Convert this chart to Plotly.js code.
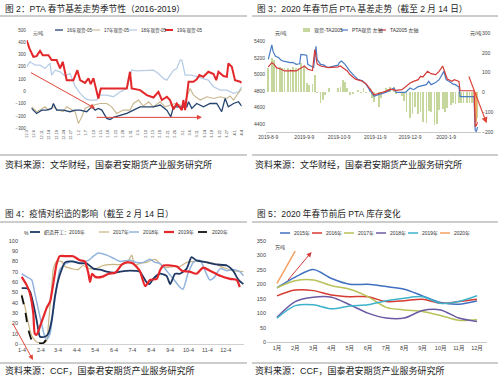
<!DOCTYPE html>
<html><head><meta charset="utf-8">
<script src="https://cdn.plot.ly/plotly-3.0.1.min.js"></script>
<style>html,body{margin:0;padding:0;background:#fff}#chart{width:500px;height:377px}</style>
</head><body><div id="chart"></div>
<script>
// ================= 图2: PTA 春节基差走势季节性 =================
const f2Names = ['16年现货-05','17年现货-05','18年现货-05','19年现货-05'];
const f2TickText = ['12-3','12-6','12-11','12-14','12-19','12-24','12-27','1-2','1-7','1-10','1-15','1-18','1-23','1-28','1-31','2-5','2-10','2-13','2-18','2-21','2-26','3-1','3-6','3-11','3-14','3-19','3-22','3-27','4-1','4-4'];
const f2Day16 = [2.0,4.0,6.1,8.1,10.1,10.8,12.1,14.8,17.5,19.6,21.6,24.3,26.3,27.7,29.0,30.4,32.4,33.7,35.1,37.8,40.5,43.2,45.9,48.6,51.3,54.0,56.7,58.3,59.4,62.1,64.8,65.5,66.8,68.8,71.5,74.2,76.9,78.9,80.3,81.6,83.7,85.7,87.0];
const f2Val16 = [-138,-179,-152,-152,-138,-98,-152,-152,-165,-152,-152,-165,-125,-152,-138,-152,-220,-228,-211,-193,-179,-152,-125,-125,-125,-111,-152,-206,-125,-125,-125,-84,-138,-98,-125,-98,-98,-165,-57,-125,-98,-84,-119];
const f2Day17 = [2.0,4.0,5.4,7.4,8.8,10.8,12.8,14.8,16.2,18.2,19.6,20.9,22.3,23.6,25.6,29.7,32.4,34.4,36.4,39.1,41.8,43.2,45.2,47.2,49.3,51.3,54.0,56.0,58.0,60.1,62.1,63.7,64.8,66.1,67.5,70.2,72.9,75.6,78.3,81.0,82.3,83.7,85.0,87.0];
const f2Val17 = [-125,-165,-152,-125,-152,-125,-152,-165,-125,-152,-165,-260,-206,-138,-119,-98,-98,-125,-179,-152,-152,-98,-70,-119,-84,-125,-84,-125,-111,-98,-111,-125,-43,24,-30,-70,-43,-57,-43,-57,-38,-70,-30,24];
const f2Day18 = [0,1.3,3.4,5.4,7.4,9.4,10.1,11.5,13.5,15.5,17.5,19.6,21.6,23.6,25.6,28.3,29.7,32.4,35.1,37.8,40.5,42.5,44.5,51.3,53.3,55.3,56.7,59.4,60.7,62.1,62.8,64.1,66.8,68.8,71.5,73.5,75.6,78.3,81.0,83.7,85.7,87.0];
const f2Val18 = [200,241,214,214,187,228,133,173,160,125,146,43,-16,-57,-70,-70,-30,-30,-43,-3,24,173,168,173,146,106,92,173,187,255,255,133,133,119,106,92,38,11,11,-16,-3,38];
const f2Day19 = [0,1.1,2.7,4.0,5.4,6.5,8.8,10.1,12.1,13.5,14.6,16.2,18.9,20.5,21.6,23.6,25.0,25.9,27.0,28.1,29.0,30.0,40.5,41.8,42.5,45.9,48.6,51.3,53.3,54.7,56.7,58.0,59.4,60.7,62.8,63.4,64.1,65.5,67.5,68.8,69.9,71.5,73.5,75.6,76.7,77.6,79.6,81.0,81.6,83.0,84.3,86.4,87.0];
const f2Val19 = [417,350,282,287,330,295,295,255,255,187,241,92,92,173,92,70,106,60,108,5,-57,24,24,160,24,11,-30,-49,-3,-70,-43,-70,-146,-98,-152,-70,-152,79,79,98,133,119,160,141,92,160,125,119,228,201,92,79,70];
// annotation arrows [tailX, tailY, headX, headY]
const f2ArrowDown = [1.1, 160, 27.7, -138];
const f2ArrowRight = [27.7, -211, 70.9, -211];

// ================= 图3: 2020 年春节后 PTA 基差走势 =================
const f3Names = ['现货-TA2005','PTA现货 左轴','TA2005 左轴'];
const f3TickVals = ['2019-08-09','2019-09-09','2019-10-09','2019-11-09','2019-12-09','2020-01-09'];
const f3TickText = ['2019-8-9','2019-9-9','2019-10-9','2019-11-9','2019-12-9','2020-1-9'];
const f3BasisDates = ['2019-08-09','2019-08-12','2019-08-14','2019-08-16','2019-08-19','2019-08-21','2019-08-23','2019-08-26','2019-08-28','2019-08-30','2019-09-02','2019-09-04','2019-09-06','2019-09-09','2019-09-11','2019-09-13','2019-09-16','2019-09-18','2019-09-20','2019-09-23','2019-09-25','2019-09-27','2019-09-30','2019-10-08','2019-10-10','2019-10-12','2019-10-14','2019-10-16','2019-10-18','2019-10-21','2019-10-23','2019-10-25','2019-10-28','2019-10-30','2019-11-01','2019-11-04','2019-11-06','2019-11-08','2019-11-12','2019-11-14','2019-11-18','2019-11-20','2019-11-22','2019-11-25','2019-11-27','2019-11-29','2019-12-02','2019-12-04','2019-12-06','2019-12-09','2019-12-11','2019-12-13','2019-12-16','2019-12-18','2019-12-20','2019-12-23','2019-12-25','2019-12-27','2019-12-30','2020-01-01','2020-01-03','2020-01-06','2020-01-08','2020-01-10','2020-01-13','2020-01-15','2020-01-17','2020-01-20','2020-01-22','2020-01-24','2020-01-27','2020-01-29','2020-01-31','2020-02-05'];
const f3Basis = [122,172,164,130,130,125,122,122,118,130,122,125,147,130,46,37,40,88,-5,-55,-38,-13,21,21,29,63,54,21,-13,-10,4,12,-5,21,-5,21,-30,-50,-72,-30,23,15,29,25,-10,-5,-20,-45,-100,-130,-110,-75,-110,-100,-150,-156,-95,-100,-165,-160,-90,-85,-100,-80,-65,-55,-60,-55,-55,-55,-55,-55,-55,-130];
const f3BasisPostDates = ['2020-02-03','2020-02-04'];
const f3BasisPost = [-90,-150];
const f3SpotDates = ['2019-08-09','2019-08-12','2019-08-13','2019-08-15','2019-08-18','2019-08-20','2019-08-22','2019-08-26','2019-08-28','2019-08-30','2019-09-02','2019-09-05','2019-09-06','2019-09-09','2019-09-11','2019-09-12','2019-09-16','2019-09-17','2019-09-19','2019-09-20','2019-09-23','2019-09-26','2019-09-29','2019-10-08','2019-10-09','2019-10-11','2019-10-14','2019-10-16','2019-10-18','2019-10-22','2019-10-25','2019-10-29','2019-11-01','2019-11-05','2019-11-08','2019-11-11','2019-11-14','2019-11-18','2019-11-21','2019-11-25','2019-11-27','2019-12-02','2019-12-05','2019-12-09','2019-12-12','2019-12-16','2019-12-19','2019-12-23','2019-12-25','2019-12-27','2019-12-31','2020-01-03','2020-01-07','2020-01-09','2020-01-13','2020-01-15','2020-01-17','2020-01-20','2020-01-21','2020-02-02','2020-02-03','2020-02-04','2020-02-05'];
const f3Spot = [5179,5355,5280,5220,5200,5170,5160,5150,5140,5145,5120,5127,5240,5235,5230,5120,5080,5080,5340,5180,5120,5110,5080,5110,5140,5160,5120,5080,5040,4980,4940,4920,4880,4793,4732,4750,4760,4780,4800,4833,4780,4775,4780,4833,4813,4850,4860,4874,4914,4874,4900,4934,5035,4934,4900,4880,4874,4845,4728,4728,4320,4305,4360];
const f3FutDates = ['2019-08-09','2019-08-12','2019-08-14','2019-08-16','2019-08-20','2019-08-23','2019-08-26','2019-08-29','2019-09-02','2019-09-06','2019-09-09','2019-09-12','2019-09-16','2019-09-18','2019-09-20','2019-09-23','2019-09-30','2019-10-08','2019-10-10','2019-10-12','2019-10-16','2019-10-18','2019-10-23','2019-10-28','2019-11-01','2019-11-05','2019-11-08','2019-11-13','2019-11-18','2019-11-22','2019-11-27','2019-12-02','2019-12-05','2019-12-09','2019-12-12','2019-12-16','2019-12-18','2019-12-20','2019-12-24','2019-12-27','2019-12-31','2020-01-03','2020-01-06','2020-01-08','2020-01-10','2020-01-14','2020-01-16','2020-01-20','2020-01-21','2020-02-02','2020-02-03','2020-02-04','2020-02-05'];
const f3Fut = [5090,5140,5120,5080,5060,5040,5040,5045,5040,5080,5100,5060,5045,5300,5126,5100,5080,5090,5100,5080,5040,5000,4940,4920,4885,4813,4750,4773,4793,4820,4805,4813,4853,4894,4914,4934,4975,4967,5035,5007,4995,5035,5100,5015,4942,4914,4934,4914,4800,4800,4364,4380,4420];

// ================= 图4: 疫情对织造的影响 =================
const f4Names = ['织造开工：2016年','2017年','2018年','2019年','2020年'];
const f4TickVals = [4,35,63,94,124,155,185,216,247,277,308,338];
const f4TickText = ['1-4','2-4','3-4','4-4','5-4','6-4','7-4','8-4','9-4','10-4','11-4','12-4'];
const f4Day16 = [3.5,11.7,17,22.5,28,30.7,33.5,41.7,47,52.7,58,63.5,69,74.5,85.5,99,110,121,132,143,154,165,181,197,208,213,219,230,241,247,255,263,274,282,290,307,323,340,350,359,367];
const f4Val16 = [54,54,51,39,23,14,7,7,10,23,46,62,72,79,80,78,78,73,72,70,69,70,71,70,60,58,63,68,66,58,68,68,73,84,81,79,77,76,71,62,58];
const f4Day17 = [3.5,8.9,14.4,20,28,39,44.5,47,52.7,55.5,61,69,74.5,85.5,96,104,115,126,137,154,170,178,184,189,197,208,222,233,241,252,263,274,285,301,318,334,350,367];
const f4Val17 = [48,36,20,8,2,1,3,17,55,73,80,80,75,73,72,76,73,73,76,77,77,80,86,76,78,79,82,76,74,75,75,79,80,80,78,74,71,70];
const f4Day18 = [3.5,11.7,20,25,31,36,41,45,50,55,61,66,72,77,88,99,113,121,129,143,154,165,181,192,203,214,222,230,241,252,263,268,276,285,296,304,312,320,329,340,350,361,367];
const f4Val18 = [68,65,62,49,33,20,8,5,10,30,55,72,76,78,80,79,81,85,88,86,83,80,81,79,79,82,79,78,71,63,55,53,68,79,81,71,62,65,73,71,72,70,66];
const f4Day19 = [3.5,11.7,17,22.5,25,28,33.5,39,44.5,50,55,61,66,77,88,99,107,113,115.5,119,124,135,146,157,168,176,186,197,206,214,225,230,236,247,258,266,279,290,301,312,329,345,356,361];
const f4Val19 = [65,57,49,30,10,9,17,26,35,41,57,78,85,85,85,81,80,68,60,68,65,65,68,69,77,79,78,71,56,62,63,71,76,76,75,71,70,68,74,71,66,63,62,55];
const f4Day20 = [3.5,8.9,14.4,20,28,39,43.3];
const f4Val20 = [47,33,14,4,1,1,4];

// ================= 图5: 2020 年春节前后 PTA 库存变化 =================
const f5Names = ['2015年','2016年','2017年','2018年','2019年','2020年'];
const f5Months = [1,2,3,4,5,6,7,8,9,10,11,12];
const f5TickText = ['1月','2月','3月','4月','5月','6月','7月','8月','9月','10月','11月','12月'];
const f5V2015 = [188,225,251,220,200,200,192,183,160,137,131,142];
const f5V2016 = [160,180,178,163,157,157,140,143,148,134,140,148];
const f5V2017 = [188,212,215,195,183,157,120,111,106,92,75,77];
const f5V2018 = [86,140,155,155,129,100,83,83,109,111,83,71];
const f5V2019 = [83,126,129,115,125,129,143,152,157,134,140,160];
const f5V2020 = [203,315];
const f5Arrow = [1.53, 209, 2.9, 312];

// ---------------- helpers ----------------
const W = 500, H = 377;
const px = x => x / W, py = y => 1 - y / H;
const FONT = 'Liberation Sans, Noto Sans CJK SC, sans-serif';
const CJK = 'Noto Sans CJK SC, sans-serif';
const shapes = [], annotations = [];

function text(x, y, t, size, anchor, color){
  annotations.push({xref:'paper', yref:'paper', x:px(x), y:py(y), text:t, showarrow:false,
    xanchor:anchor||'left', yanchor:'middle', font:{size:size, family:FONT, color:color||'#333'}});
}
function hline(x0, x1, y){
  shapes.push({type:'line', xref:'paper', yref:'paper', x0:px(x0), x1:px(x1), y0:py(y), y1:py(y), line:{color:'#9a9a9a', width:1}});
}
function addLegend(names, styles, starts, y, len, fs){
  names.forEach((n, i) => {
    const s = styles[i], x0 = starts[i];
    if (s.bar) {
      shapes.push({type:'rect', xref:'paper', yref:'paper', x0:px(x0), x1:px(x0+len), y0:py(y+2), y1:py(y-2), fillcolor:s.color, line:{width:0}});
    } else {
      shapes.push({type:'line', xref:'paper', yref:'paper', x0:px(x0), x1:px(x0+len), y0:py(y), y1:py(y), line:{color:s.color, width:s.width, dash:s.dash||'solid'}});
    }
    text(x0 + len + 1.5, y, n, fs, 'left', '#333');
  });
}

// styles
const c16 = '#24436e', c17 = '#c8b58c', c18 = '#b7cde6', c19 = '#e3282b';
const st2 = [{color:c16,width:1.3},{color:c17,width:1.1},{color:c18,width:1.3},{color:c19,width:2}];
const cBar = '#c6d79e', cBarPost = '#f2a45f', cSpot = '#4a7cc4', cFut = '#d23b38';
const st3 = [{color:cBar,bar:true},{color:cSpot,width:1.2},{color:cFut,width:1.2}];
const st4 = [{color:'#1f3864',width:1.8},{color:'#c9b37f',width:1.2},{color:'#92b4dc',width:1.5},{color:'#e5262b',width:2.2},{color:'#111111',width:1.8,dash:'dash'}];
const st5 = [{color:'#3f70c0',width:1.5},{color:'#d63a30',width:1.5},{color:'#b9c25a',width:1.5},{color:'#6b5aa3',width:1.5},{color:'#3eb2cb',width:1.5},{color:'#f4a060',width:1.5}];

const traces = [];
// figure 2 lines
[[f2Day18,f2Val18,2],[f2Day17,f2Val17,1],[f2Day16,f2Val16,0],[f2Day19,f2Val19,3]].forEach(([x,y,i]) => {
  traces.push({type:'scatter', mode:'lines', x:x, y:y, xaxis:'x', yaxis:'y', name:f2Names[i],
    line:{color:st2[i].color, width:st2[i].width}, showlegend:false});
});
// figure 3 bars (right axis base y2) and lines (left axis y3, overlay)
traces.push({type:'bar', x:f3BasisDates, y:f3Basis, xaxis:'x2', yaxis:'y2', name:f3Names[0], marker:{color:cBar, line:{width:0}}, width:1.5*86400000, showlegend:false});
traces.push({type:'bar', x:f3BasisPostDates, y:f3BasisPost, xaxis:'x2', yaxis:'y2', name:f3Names[0]+'(节后)', marker:{color:cBarPost, line:{width:0}}, width:1.5*86400000, showlegend:false});
traces.push({type:'scatter', mode:'lines', x:f3SpotDates, y:f3Spot, xaxis:'x2', yaxis:'y3', name:f3Names[1], line:{color:cSpot, width:1.2}, showlegend:false});
traces.push({type:'scatter', mode:'lines', x:f3FutDates, y:f3Fut, xaxis:'x2', yaxis:'y3', name:f3Names[2], line:{color:cFut, width:1.2}, showlegend:false});
// figure 4
[[f4Day17,f4Val17,1],[f4Day18,f4Val18,2],[f4Day16,f4Val16,0],[f4Day19,f4Val19,3],[f4Day20,f4Val20,4]].forEach(([x,y,i]) => {
  traces.push({type:'scatter', mode:'lines', x:x, y:y, xaxis:'x3', yaxis:'y4', name:f4Names[i],
    line:{color:st4[i].color, width:st4[i].width, dash:st4[i].dash||'solid', shape:'spline', smoothing:0.6}, showlegend:false});
});
// figure 5
[f5V2015,f5V2016,f5V2017,f5V2018,f5V2019,f5V2020].forEach((v, i) => {
  traces.push({type:'scatter', mode:'lines', x:f5Months.slice(0, v.length), y:v, xaxis:'x4', yaxis:'y5', name:f5Names[i],
    line:{color:st5[i].color, width:st5[i].width, shape:'spline', smoothing:0.8}, showlegend:false});
});

// titles, separators, sources
text(3, 9, '图 2：PTA 春节基差走势季节性（2016-2019）', 8.7, 'left', '#222');
text(255, 9, '图 3：2020 年春节后 PTA 基差走势（截至 2 月 14 日）', 8.6, 'left', '#222');
text(3, 213, '图 4：疫情对织造的影响（截至 2 月 14 日）', 8.6, 'left', '#222');
text(255, 213, '图 5：2020 年春节前后 PTA 库存变化', 8.6, 'left', '#222');
hline(0, 247, 16); hline(252, 498, 16);
hline(0, 247, 155); hline(252, 498, 155);
hline(0, 247, 222); hline(252, 498, 222);
hline(0, 247, 363); hline(252, 498, 363);
text(3, 164, '资料来源：文华财经，国泰君安期货产业服务研究所', 9, 'left', '#222');
text(253, 164, '资料来源：文华财经，国泰君安期货产业服务研究所', 9, 'left', '#222');
text(3, 370, '资料来源：CCF，国泰君安期货产业服务研究所', 9, 'left', '#222');
text(253, 370, '资料来源：CCF，国泰君安期货产业服务研究所', 9, 'left', '#222');
// unit labels
text(31, 33, '元/吨', 4.5);
text(273, 33, '元/吨', 5);
text(468, 33, '元/吨', 5);
text(22, 233, '%', 5);
text(273, 247, '万吨', 5);
// legends
addLegend(f2Names, st2, [55, 92, 129, 165], 30, 8, 4.5);
addLegend(f3Names, st3, [303, 341, 379], 30, 7, 5);
addLegend(f4Names, st4, [30, 99, 129, 164, 198], 232, 10, 5);
addLegend(f5Names, st5, [280, 312, 344, 376, 408, 440], 233, 10, 5);

// arrows
const arrowBase = {showarrow:true, arrowhead:2, arrowsize:1, arrowwidth:1, arrowcolor:'#e0453a', text:''};
annotations.push(Object.assign({}, arrowBase, {xref:'x', yref:'y', axref:'x', ayref:'y', x:f2ArrowDown[2], y:f2ArrowDown[3], ax:f2ArrowDown[0], ay:f2ArrowDown[1]}));
annotations.push(Object.assign({}, arrowBase, {xref:'x', yref:'y', axref:'x', ayref:'y', x:f2ArrowRight[2], y:f2ArrowRight[3], ax:f2ArrowRight[0], ay:f2ArrowRight[1]}));
annotations.push(Object.assign({}, arrowBase, {xref:'paper', yref:'paper', x:px(486.7), y:py(123.3), ax:-18.4, ay:-48.3, arrowwidth:1.2}));
annotations.push(Object.assign({}, arrowBase, {xref:'paper', yref:'paper', x:px(33), y:py(360), ax:-21, ay:-38}));
annotations.push(Object.assign({}, arrowBase, {xref:'x4', yref:'y5', axref:'x4', ayref:'y5', x:f5Arrow[2], y:f5Arrow[3], ax:f5Arrow[0], ay:f5Arrow[1], arrowcolor:'#d23a3a'}));

const tf = s => ({size:s, family:FONT, color:'#444'});
const base = {showgrid:false, zeroline:false, ticks:'', fixedrange:true};
const layout = {
  width:W, height:H, margin:{l:0,r:0,t:0,b:0}, autosize:false,
  paper_bgcolor:'#fff', plot_bgcolor:'rgba(0,0,0,0)', showlegend:false, barmode:'overlay', bargap:0,
  font:{family:FONT},
  xaxis: Object.assign({}, base, {domain:[px(26.7), px(241.7)], range:[0,87], anchor:'y',
    tickvals:f2TickText.map((t,i)=>i*3), ticktext:f2TickText, tickangle:-90, tickfont:tf(3.8)}),
  yaxis: Object.assign({}, base, {domain:[py(128.3), py(30)], range:[-300,500], dtick:100, anchor:'x', tickfont:tf(4.5)}),
  xaxis2: Object.assign({}, base, {domain:[px(266), px(481)], type:'date', range:['2019-08-07','2020-02-08'], anchor:'y2',
    tickvals:f3TickVals, ticktext:f3TickText, tickangle:0, tickfont:tf(5), showline:true, linecolor:'#c8c8c8'}),
  yaxis2: Object.assign({}, base, {domain:[py(132), py(33)], range:[-200,300], dtick:100, anchor:'x2', side:'right', tickfont:tf(5)}),
  yaxis3: Object.assign({}, base, {range:[4300,5500], dtick:200, anchor:'x2', overlaying:'y2', side:'left', tickfont:tf(5)}),
  xaxis3: Object.assign({}, base, {domain:[px(19), px(244)], range:[-0.9,368], anchor:'y4',
    tickvals:f4TickVals, ticktext:f4TickText, tickangle:0, tickfont:tf(5.5), showline:true, linecolor:'#d0d0d0'}),
  yaxis4: Object.assign({}, base, {domain:[py(344), py(240.7)], range:[0,100], dtick:10, anchor:'x3', tickfont:tf(5.5)}),
  xaxis4: Object.assign({}, base, {domain:[px(267), px(487)], range:[0.45,12.55], anchor:'y5',
    tickvals:f5Months, ticktext:f5TickText, tickangle:0, tickfont:tf(5.5), showline:true, linecolor:'#c8c8c8'}),
  yaxis5: Object.assign({}, base, {domain:[py(342), py(241)], range:[0,350], dtick:50, anchor:'x4', tickfont:tf(5.5)}),
  shapes:shapes, annotations:annotations
};
Plotly.newPlot('chart', traces, layout, {staticPlot:true, displayModeBar:false});
</script></body></html>
